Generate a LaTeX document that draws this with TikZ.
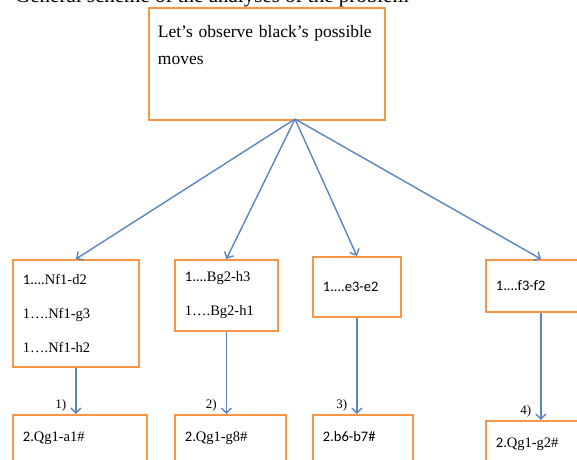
\documentclass[tikz,border=0pt]{standalone}
\usepackage{fontspec}
\setmainfont{Liberation Serif}
\newfontfamily\calfont{Carlito}
\usetikzlibrary{arrows.meta,calc}
\definecolor{boxorange}{HTML}{F79646}
\definecolor{arrowblue}{HTML}{5B84C0}

\begin{document}
\begin{tikzpicture}[x=1pt,y=-1pt,
  box/.style={draw=boxorange, line width=1.8pt, fill=white, anchor=north west, align=left, inner xsep=10pt, inner ysep=4pt, font=\fontsize{14.5}{34}\selectfont},
  lastbox/.style={box, inner ysep=17pt, text height=10pt, text depth=40pt},
  arr/.style={draw=arrowblue, line width=1.4pt, -{Straight Barb[length=5pt,width=10pt]}},
  lbl/.style={anchor=east, inner sep=0pt, xshift=-9pt, yshift=9pt, font=\fontsize{13}{13}\selectfont}]

\useasboundingbox (0,0) rectangle (577,459);
\clip (0,0) rectangle (577,459);

\node[anchor=base west, inner sep=0pt, font=\fontsize{21}{21}\selectfont] (title) at (15,2) {General scheme of the analyses of the problem};

\node[box, inner xsep=9pt, inner ysep=17pt, text width=218pt, text depth=66pt, font=\fontsize{17.5}{27}\selectfont] (top) at (148,7) {Let’s observe black’s possible\\moves};
\coordinate (fan) at (295,119);

% black's answers
\node[box, text width=106pt, minimum height=107pt] (b1) at (12,259) {{\calfont 1....}Nf1-d2\\1….Nf1-g3\\1….Nf1-h2};
\node[box, text width=83pt, minimum height=71pt] (b2) at (174,259) {{\calfont 1....}Bg2-h3\\1….Bg2-h1};
\node[box, text width=68pt, minimum height=60pt, font=\calfont\fontsize{14.5}{34}\selectfont] (b3) at (312,256) {1....e3-e2};
\node[box, text width=90pt, minimum height=52pt, font=\calfont\fontsize{14.5}{34}\selectfont] (b4) at (485,259) {1....f3-f2};

% mates
\node[lastbox, text width=114pt] (b5) at (12,414) {{\calfont 2.}Qg1-a1\#};
\node[lastbox, text width=91pt] (b6) at (174,414) {{\calfont 2.}Qg1-g8\#};
\node[lastbox, text width=80pt, font=\calfont\fontsize{14.5}{34}\selectfont] (b7) at (312,414) {2.b6-b7\#};
\node[lastbox, text width=90pt] (b8) at (485,420) {{\calfont 2.}Qg1-g2\#};

\foreach \b in {b1,b2,b3,b4}
{\draw[arr] (fan) -- (\b.north);}

\foreach \a/\b/\n in {b1/b5/1,b2/b6/2,b3/b7/3,b4/b8/4}
{\draw[arr] (\a.south) -- (\a.south |- \b.north) node[lbl] {\n)};}

\end{tikzpicture}
\end{document}
